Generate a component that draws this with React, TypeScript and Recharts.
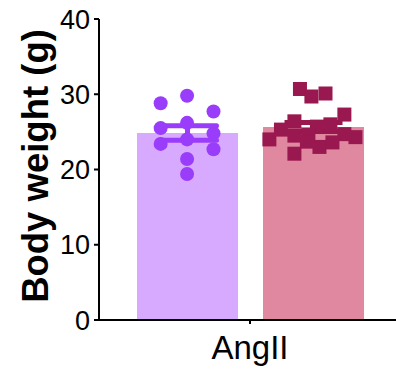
import { Bar, ComposedChart, ErrorBar, Label, Scatter, XAxis, YAxis } from 'recharts'

const categories = ['AngII']
const groupMeans = [24.85, 25.65]
const groupSems = [0.95, 0.6]
const yTicks = [0, 10, 20, 30, 40]

// x is the jitter position (group centre -0.5 / 0.5 on the hidden axis)
const purplePoints = [
  { x: -0.71, y: 28.8 },
  { x: -0.5, y: 29.8 },
  { x: -0.29, y: 27.7 },
  { x: -0.71, y: 25.5 },
  { x: -0.5, y: 26.2 },
  { x: -0.29, y: 24.8 },
  { x: -0.71, y: 23.4 },
  { x: -0.5, y: 24.0 },
  { x: -0.29, y: 22.7 },
  { x: -0.5, y: 21.4 },
  { x: -0.5, y: 19.4 },
]

const pinkPoints = [
  { x: 0.397, y: 30.7 },
  { x: 0.488, y: 29.7 },
  { x: 0.6, y: 30.1 },
  { x: 0.75, y: 27.3 },
  { x: 0.154, y: 24.0 },
  { x: 0.246, y: 25.3 },
  { x: 0.353, y: 26.4 },
  { x: 0.353, y: 22.1 },
  { x: 0.353, y: 24.5 },
  { x: 0.838, y: 24.3 },
  { x: 0.75, y: 24.7 },
  { x: 0.552, y: 23.0 },
  { x: 0.655, y: 23.6 },
  { x: 0.639, y: 26.0 },
  { x: 0.532, y: 25.7 },
  { x: 0.464, y: 24.6 },
  { x: 0.452, y: 23.7 },
]

const barData = categories.map((name) => ({
  name,
  ctrl: groupMeans[0],
  ctrlErr: groupSems[0],
  angii: groupMeans[1],
  angiiErr: groupSems[1],
}))

const FONT = '"Liberation Sans", Arial, sans-serif'
const PURPLE_BAR = '#d8aaff'
const PURPLE_DOT = '#9a3dfa'
const PINK_BAR = '#e0889f'
const PINK_DOT = '#99184f'

const RoundDot = (props: any) => (
  <circle cx={props.cx} cy={props.cy} r={7} fill={PURPLE_DOT} />
)

const SquareDot = (props: any) => (
  <rect x={props.cx - 7} y={props.cy - 7} width={14} height={14} fill={PINK_DOT} />
)

export default function App() {
  return (
    <div
      style={{
        position: 'absolute',
        left: 0,
        top: 0,
        width: 396,
        height: 370,
        overflow: 'hidden',
        background: '#fff',
      }}
    >
      <ComposedChart
        width={402}
        height={370}
        data={barData}
        margin={{ top: 19, right: 1, bottom: 0, left: 0 }}
        barSize={101}
        barGap={25}
      >
        <XAxis
          dataKey="name"
          height={50}
          axisLine={{ stroke: '#000', strokeWidth: 2 }}
          tickLine={{ stroke: '#000', strokeWidth: 2 }}
          tickSize={4}
          tickMargin={12}
          tick={{ fill: '#000', fontSize: 33, fontFamily: FONT }}
        />
        <XAxis
          xAxisId="jitter"
          dataKey="x"
          type="number"
          domain={[-1.2, 1.2]}
          allowDataOverflow
          hide
        />
        <YAxis
          width={99}
          domain={[0, 40]}
          ticks={yTicks}
          interval={0}
          axisLine={{ stroke: '#000', strokeWidth: 2 }}
          tickLine={{ stroke: '#000', strokeWidth: 2 }}
          tickSize={5}
          tickMargin={4}
          tick={{ fill: '#000', fontSize: 27, fontFamily: FONT }}
        >
          <Label
            content={() => (
              <text
                x={35}
                y={166}
                transform="rotate(-90, 35, 166)"
                textAnchor="middle"
                dominantBaseline="central"
                fontSize={36.5}
                fontWeight="bold"
                fontFamily={FONT}
                fill="#000"
              >
                Body weight (g)
              </text>
            )}
          />
        </YAxis>
        <Bar dataKey="ctrl" fill={PURPLE_BAR} isAnimationActive={false}>
          <ErrorBar
            dataKey="ctrlErr"
            width={29}
            stroke={PURPLE_DOT}
            strokeWidth={5}
            strokeLinecap="round"
          />
        </Bar>
        <Bar dataKey="angii" fill={PINK_BAR} isAnimationActive={false}>
          <ErrorBar
            dataKey="angiiErr"
            width={29}
            stroke={PINK_DOT}
            strokeWidth={5}
          />
        </Bar>
        <Scatter
          xAxisId="jitter"
          data={purplePoints}
          dataKey="y"
          shape={RoundDot}
          isAnimationActive={false}
        />
        <Scatter
          xAxisId="jitter"
          data={pinkPoints}
          dataKey="y"
          shape={SquareDot}
          isAnimationActive={false}
        />
      </ComposedChart>
    </div>
  )
}
